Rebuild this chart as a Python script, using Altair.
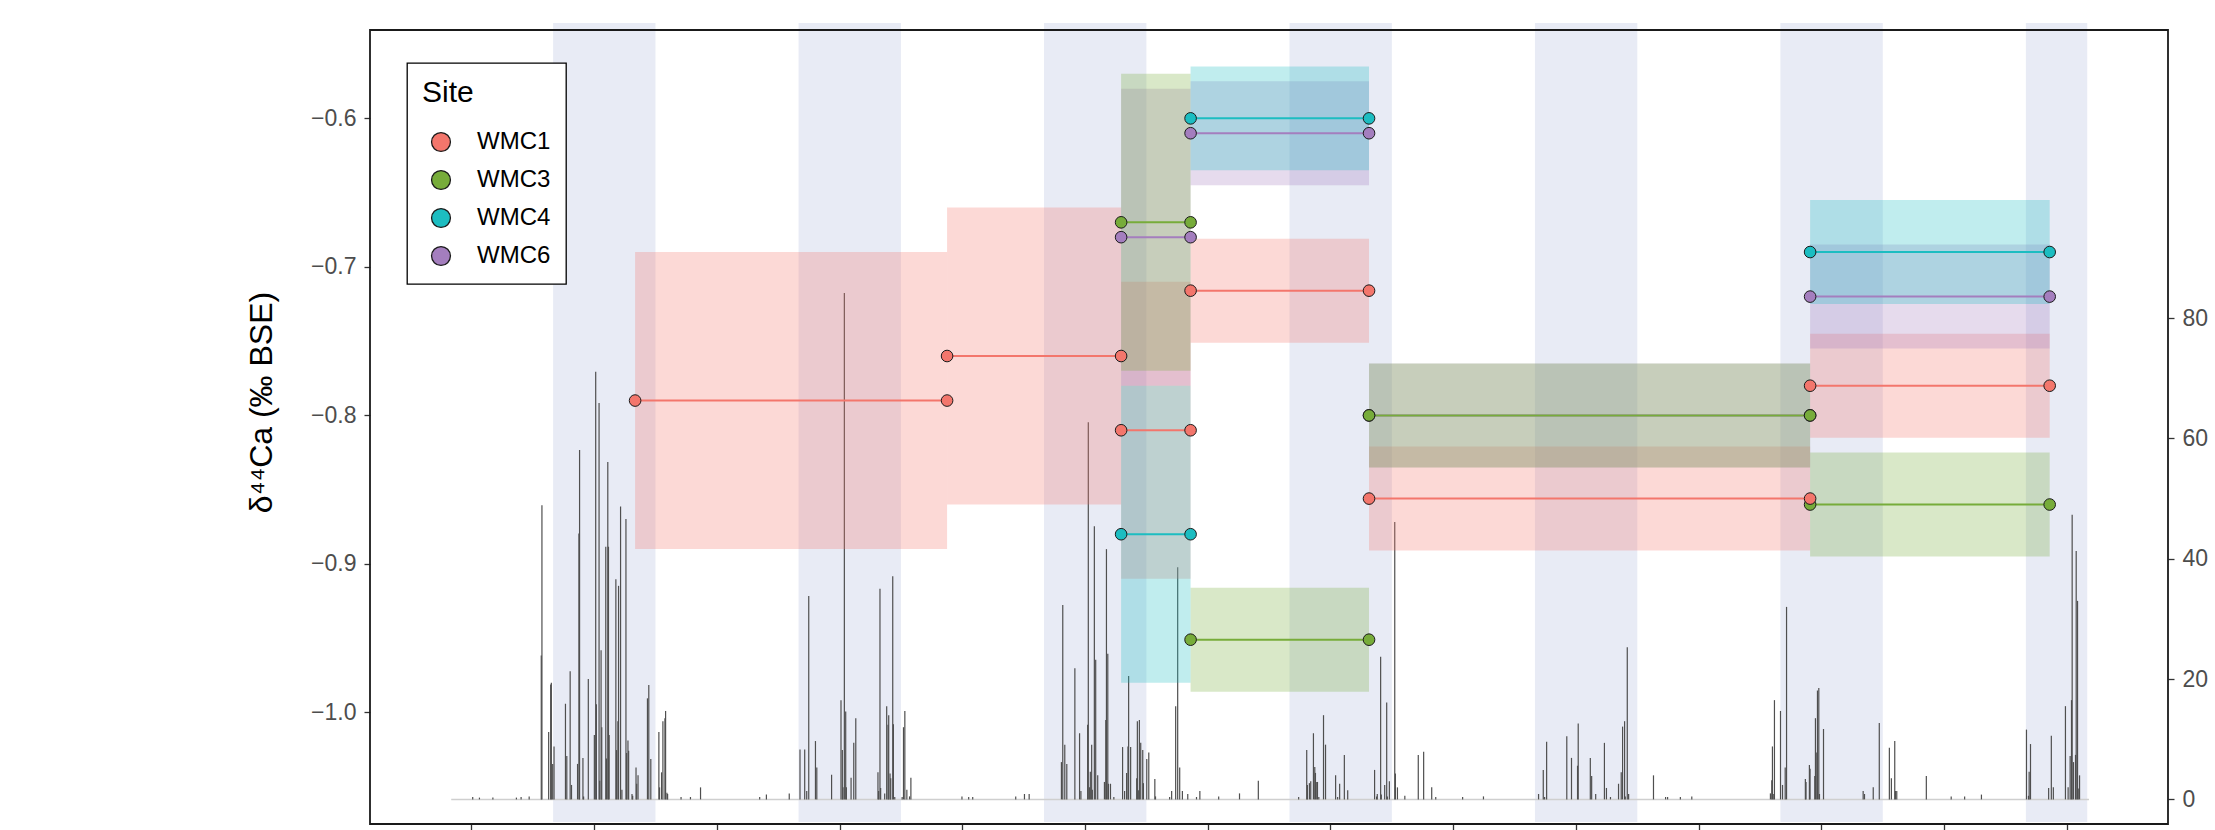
import altair as alt
import pandas as pd

FONT = "Liberation Sans"

# ---- drip-water calcium isotopes -------------------------------------------
# sampling dates (decimal years) that bound each collection interval
sample_dates = [2012.667, 2013.938, 2014.647, 2014.930, 2015.657, 2017.454, 2018.430]

# one entry per interval: site, start/end sample index, mean value and 2SD
seg_site = ["WMC1", "WMC1", "WMC1", "WMC1", "WMC1", "WMC1",
            "WMC3", "WMC3", "WMC3", "WMC3",
            "WMC4", "WMC4", "WMC4",
            "WMC6", "WMC6", "WMC6", "WMC6"]
seg_start = [0, 1, 2, 3, 4, 5, 2, 3, 4, 5, 2, 3, 5, 2, 3, 4, 5]
seg_end = [1, 2, 3, 4, 5, 6, 3, 4, 5, 6, 3, 4, 6, 3, 4, 5, 6]
seg_value = [-0.79, -0.76, -0.81, -0.716, -0.856, -0.78,
             -0.67, -0.951, -0.80, -0.86,
             -0.88, -0.60, -0.69,
             -0.68, -0.61, -0.80, -0.72]
seg_err = [0.10, 0.10, 0.10, 0.035, 0.035, 0.035,
           0.10, 0.035, 0.035, 0.035,
           0.10, 0.035, 0.035,
           0.10, 0.035, 0.035, 0.035]

sites = ["WMC1", "WMC3", "WMC4", "WMC6"]
site_colors = ["#F3766C", "#77AC3A", "#1CBDC1", "#A47EBE"]
# stacking orders (last one on top)
box_order = {"WMC1": 0, "WMC6": 1, "WMC3": 2, "WMC4": 3}
mark_order = {"WMC6": 0, "WMC4": 1, "WMC3": 2, "WMC1": 3}

# ---- wet seasons (May - September) -------------------------------------------
wet_start = [2012.333, 2013.333, 2014.333, 2015.333, 2016.333, 2017.333, 2018.333]
wet_end = [2012.750, 2013.750, 2014.750, 2015.750, 2016.750, 2017.750, 2018.583]

# ---- daily rainfall: days since 1 Jan 2012 and totals (mm) ---------------------
record_first_day = -30
record_last_day = 2407
rain_day = [
    2, 12, 32, 67, 74, 86, 104, 105, 115, 118, 119, 121, 123, 140, 142, 147, 149,
    158, 160, 161, 166, 167, 174, 183, 185, 186, 190, 191, 193, 194, 200, 201, 203,
    204, 205, 215, 216, 218, 219, 222, 224, 230, 231, 233, 234, 239, 240, 245, 246,
    248, 262, 264, 267, 279, 280, 283, 285, 288, 289, 291, 292, 312, 326, 341,
    429, 439, 473, 489, 496, 499, 502, 512, 514, 536, 550, 552, 553, 555, 557, 558,
    565, 569, 572, 605, 606, 608, 609, 615, 618, 620, 621, 623, 624, 627, 628, 630,
    641, 643, 645, 648, 652, 654, 730, 740, 746, 810,
    823, 830, 878, 880, 883, 886, 898, 905, 907, 917, 918, 920, 921, 923, 924, 927,
    929, 932, 942, 944, 945, 947, 948, 951, 956, 969, 972, 975, 977, 978, 981, 990,
    991, 993, 994, 996, 999, 1000, 1005, 1008, 1017, 1018, 1039, 1042, 1048, 1051,
    1054, 1058, 1066, 1079, 1084, 1112, 1143, 1171, 1231,
    1243, 1244, 1247, 1249, 1253, 1255, 1256, 1258, 1259, 1261, 1268, 1271, 1286,
    1289, 1292, 1299, 1304, 1344, 1347, 1348, 1353, 1354, 1359, 1362, 1363, 1366,
    1374, 1375, 1378, 1389, 1409, 1417, 1429, 1435, 1475, 1506, 1588, 1595, 1597,
    1600, 1630, 1637, 1646, 1647,
    1665, 1667, 1673, 1686, 1689, 1695, 1707, 1711, 1713, 1716, 1717, 1720, 1722,
    1759, 1777, 1780, 1799, 1816, 1933, 1935, 1936, 1938, 1939, 1948, 1951, 1955,
    1957, 1985, 1986, 1991, 1992, 1999, 2000, 2002, 2003, 2005, 2006, 2012,
    2071, 2073, 2086, 2095, 2110, 2113, 2118, 2119, 2121, 2165, 2202, 2222, 2247,
    2314, 2317, 2318, 2320, 2347, 2351, 2354, 2372, 2376, 2379, 2381, 2382, 2384,
    2387, 2388, 2390, 2391, 2393,
]
rain_mm = [
    0.4, 0.3, 0.3, 0.3, 0.4, 0.5, 23.9, 48.9, 11.2, 19.1, 19.4, 5.9, 8.8, 15.9, 7.2, 21.3, 2.4,
    5.9, 44.2, 58.1, 6.9, 0.5, 20.0, 10.7, 71.1, 15.8, 65.9, 3.1, 24.8, 12.0, 42.0, 6.8, 56.1,
    42.0, 10.7, 36.6, 8.2, 13.0, 35.5, 48.7, 1.6, 46.6, 7.7, 9.8, 8.1, 0.9, 0.6, 5.3, 2.6,
    4.0, 16.8, 19.0, 6.7, 11.2, 2.0, 4.5, 13.0, 13.5, 14.7, 1.1, 0.9, 0.4, 0.4, 2.0,
    0.4, 0.8, 1.0, 8.3, 8.3, 1.4, 33.8, 9.7, 5.3, 4.1, 16.5, 8.2, 2.0, 84.2, 14.6, 2.0,
    3.6, 9.4, 13.5, 4.5, 1.4, 35.0, 1.9, 1.0, 15.5, 12.4, 14.0, 4.3, 3.5, 37.1, 12.5, 0.4,
    0.4, 12.0, 14.7, 1.6, 0.5, 3.6, 0.5, 0.4, 0.4, 0.5,
    0.9, 0.9, 6.2, 32.3, 9.1, 5.9, 21.8, 11.0, 1.4, 12.4, 62.7, 2.0, 4.6, 9.1, 1.6, 45.4,
    23.2, 4.0, 2.9, 13.2, 41.6, 24.2, 2.6, 2.6, 0.4, 8.7, 1.4, 4.4, 8.8, 20.5, 8.7, 3.5,
    13.0, 1.5, 13.2, 9.4, 8.2, 2.7, 6.7, 7.8, 3.4, 0.5, 0.4, 1.4, 15.5, 38.6,
    5.3, 1.4, 0.9, 0.4, 1.4, 0.5, 1.0, 3.1, 0.4,
    8.2, 2.4, 2.7, 3.0, 11.0, 5.4, 4.4, 2.9, 2.9, 0.4, 14.0, 9.1, 4.0,
    0.4, 2.6, 7.4, 1.5, 4.9, 0.5, 0.9, 23.7, 0.8, 2.4, 16.1, 0.5, 3.0,
    46.1, 4.3, 2.0, 0.6, 7.4, 7.9, 2.0, 0.4, 0.4, 0.5, 0.9, 4.9, 0.4,
    9.6, 10.5, 6.9, 5.6, 12.6,
    6.9, 3.9, 0.9, 9.4, 1.9, 0.4, 2.6, 4.5, 12.1, 13.0, 0.5, 25.3, 0.9,
    4.0, 0.4, 0.4, 0.4, 0.5, 1.0, 3.2, 8.8, 0.9, 16.5, 14.7, 2.4, 5.3,
    32.0, 3.4, 2.9, 5.7, 5.1, 3.9, 13.5, 7.8, 18.1, 18.5, 0.9, 11.7,
    1.4, 0.9, 2.0, 12.7, 8.6, 3.5, 9.7, 1.4, 1.4, 3.9, 0.5, 0.5, 0.8,
    11.6, 0.6, 4.6, 9.2, 1.9, 10.6, 2.0, 15.5, 2.0, 7.2, 16.5, 47.3, 6.2,
    7.4, 41.3, 33.0, 1.8, 4.0,
]

# ---- axes ranges and ticks -----------------------------------------------------
x_domain = [2011.587, 2018.912]
x_ticks = [2012.0, 2012.5, 2013.0, 2013.5, 2014.0, 2014.5, 2015.0, 2015.5,
           2016.0, 2016.5, 2017.0, 2017.5, 2018.0, 2018.5]
ca_domain = [-1.0751, -0.5405]
ca_ticks = [-1.0, -0.9, -0.8, -0.7, -0.6]
rain_domain = [-4.09, 127.9]
rain_ticks = [0, 20, 40, 60, 80]

W, H = 1798, 794


def to_year(day):
    return 2012 + day / 365.25


site_hex = dict(zip(sites, site_colors))

seg_df = pd.DataFrame({
    "site": seg_site,
    "t0": [sample_dates[i] for i in seg_start],
    "t1": [sample_dates[i] for i in seg_end],
    "value": seg_value,
    "lo": [v - e for v, e in zip(seg_value, seg_err)],
    "hi": [v + e for v, e in zip(seg_value, seg_err)],
})
seg_df["hex"] = seg_df["site"].map(site_hex)


def ordered(df, order):
    out = df.copy()
    out["rank"] = out["site"].map(order)
    return out.sort_values("rank", kind="stable").drop(columns="rank")


box_df = ordered(seg_df, box_order)
line_df = ordered(seg_df, mark_order)
pt_df = ordered(pd.concat([
    seg_df[["site", "t0", "value"]].rename(columns={"t0": "t"}),
    seg_df[["site", "t1", "value"]].rename(columns={"t1": "t"}),
]), mark_order)

wet_df = pd.DataFrame({"start": wet_start, "end": wet_end})
rain_df = pd.DataFrame({"year": [to_year(d) for d in rain_day], "mm": rain_mm})
rain_df["floor"] = 0.0
base_df = pd.DataFrame({"start": [to_year(record_first_day)],
                        "end": [to_year(record_last_day)], "level": [0.0]})

xs = alt.Scale(domain=x_domain, nice=False, zero=False)
xaxis = alt.Axis(values=x_ticks, labels=False, title=None, domain=False, grid=False,
                 tickSize=8, tickColor="#333333", tickWidth=1.3)

ls = alt.Scale(domain=ca_domain, nice=False, zero=False)
laxis = alt.Axis(orient="left", title="δ⁴⁴Ca (‰ BSE)", values=ca_ticks, format=".1f",
                 domain=False, grid=False, tickSize=6, tickColor="#333333", tickWidth=1.3,
                 labelFontSize=23, labelColor="#4D4D4D", labelPadding=8,
                 titleFontSize=32, titleFontWeight="normal", titleColor="#000000",
                 titleX=-109, titleY=372, titleAngle=270, titleAlign="center",
                 titleBaseline="middle")

rs = alt.Scale(domain=rain_domain, nice=False, zero=False)
raxis = alt.Axis(orient="right", title=None, values=rain_ticks, format="d",
                 domain=False, grid=False, tickSize=6, tickColor="#333333", tickWidth=1.3,
                 labelFontSize=23, labelColor="#4D4D4D", labelPadding=8)

cscale = alt.Scale(domain=sites, range=site_colors)

bands = alt.Chart(wet_df).mark_rect(color="#E8EBF5").encode(
    x=alt.X("start:Q", scale=xs, axis=xaxis),
    x2="end:Q",
    y=alt.value(-7),
    y2=alt.value(H - 2),
)

baseline = alt.Chart(base_df).mark_rule(color="#CFCFCF", strokeWidth=1.5).encode(
    x=alt.X("start:Q", scale=xs, axis=xaxis),
    x2="end:Q",
    y=alt.Y("level:Q", scale=rs, axis=raxis),
)
spikes = alt.Chart(rain_df).mark_rule(color="#4F4F4F", strokeWidth=1.2).encode(
    x=alt.X("year:Q", scale=xs, axis=xaxis),
    y=alt.Y("mm:Q", scale=rs, axis=raxis),
    y2="floor:Q",
)
rain = alt.layer(baseline, spikes)

# 2SD envelopes and interval lines take their colour straight from the data,
# so only the sample points feed the legend
boxes = alt.Chart(box_df).mark_rect(opacity=0.28).encode(
    x=alt.X("t0:Q", scale=xs, axis=xaxis),
    x2="t1:Q",
    y=alt.Y("lo:Q", scale=ls, axis=laxis),
    y2="hi:Q",
    fill=alt.Fill("hex:N", scale=None),
)
lines = alt.Chart(line_df).mark_rule(strokeWidth=2).encode(
    x=alt.X("t0:Q", scale=xs, axis=xaxis),
    x2="t1:Q",
    y=alt.Y("value:Q", scale=ls, axis=laxis),
    stroke=alt.Stroke("hex:N", scale=None),
)
points = alt.Chart(pt_df).mark_circle(size=135, opacity=1, stroke="#1A1A1A", strokeWidth=1).encode(
    x=alt.X("t:Q", scale=xs, axis=xaxis),
    y=alt.Y("value:Q", scale=ls, axis=laxis),
    color=alt.Color(
        "site:N", scale=cscale,
        legend=alt.Legend(
            title="Site", orient="none", legendX=37, legendY=33,
            fillColor="#FFFFFF", strokeColor="#000000", padding=15,
            titleFontSize=30, titleFontWeight="normal", titleColor="#000000",
            titlePadding=22, labelFontSize=24, labelColor="#000000",
            labelOffset=24, rowPadding=12, symbolType="circle", symbolSize=356,
            symbolStrokeColor="#1A1A1A", symbolStrokeWidth=1.3, symbolOffset=7,
            symbolOpacity=1,
        ),
    ),
)
delta = alt.layer(boxes, lines, points)

frame = alt.Chart(pd.DataFrame({"k": [0]})).mark_rect(
    fillOpacity=0, stroke="#1A1A1A", strokeWidth=1.8
).encode(x=alt.value(0), x2=alt.value(W), y=alt.value(0), y2=alt.value(H))

chart = (
    alt.layer(bands, rain, delta, frame)
    .resolve_scale(y="independent")
    .properties(
        width=W,
        height=H,
        autosize=alt.AutoSizeParams(type="none"),
        padding={"left": 370, "top": 30, "right": 47, "bottom": 6},
        background="#FFFFFF",
    )
    .configure(font=FONT)
    .configure_view(stroke=None)
    .configure_legend(strokeWidth=1.3, cornerRadius=0)
)

chart.save("out.html", embed_options={"renderer": "svg", "actions": False})
